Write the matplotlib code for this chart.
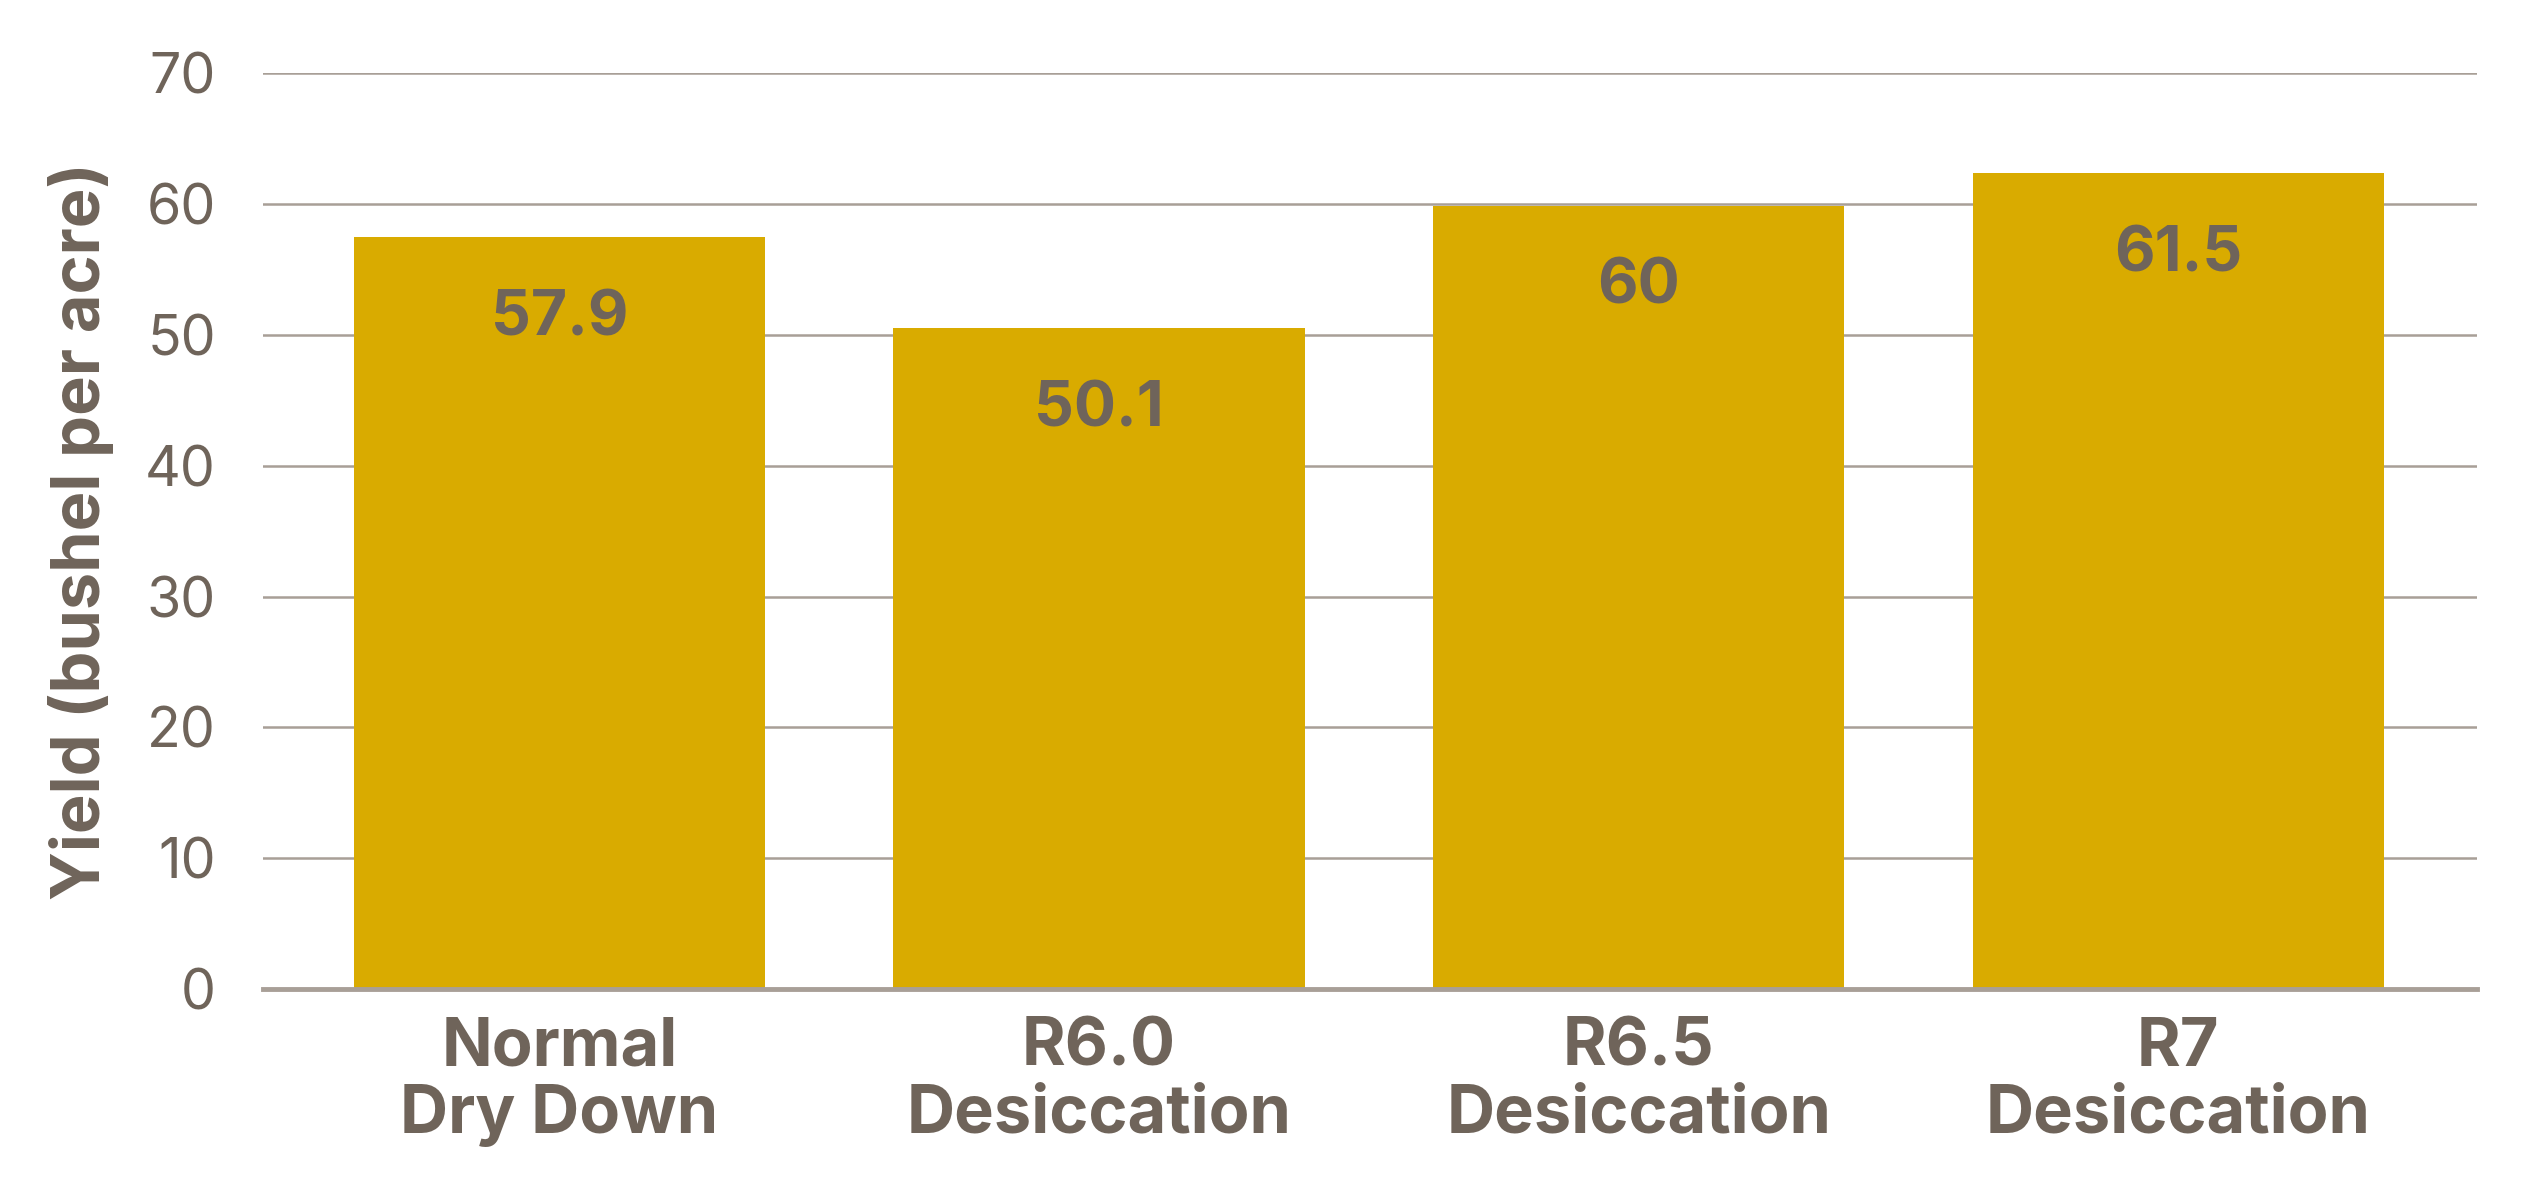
import matplotlib
matplotlib.use('Agg')
import matplotlib.pyplot as plt

categories = ['Normal\nDry Down', 'R6.0\nDesiccation', 'R6.5\nDesiccation', 'R7\nDesiccation']
bar_heights = [57.5, 50.5, 59.9, 62.4]
bar_labels = ['57.9', '50.1', '60', '61.5']
y_ticks = [0, 10, 20, 30, 40, 50, 60, 70]

text_color = '#6F645A'
bar_color = '#D9AB00'
grid_color = '#A89F97'

plt.rcParams['font.family'] = ['Inter', 'DejaVu Sans']

fig = plt.figure(figsize=(25.3, 11.81), dpi=100)
ax = fig.add_axes([0.104, 0.1626, 0.875, 0.7752])

x = range(len(categories))
bars = ax.bar(x, bar_heights, width=0.762, color=bar_color, zorder=2)

for rect, lab in zip(bars, bar_labels):
    ax.annotate(lab, xy=(rect.get_x() + rect.get_width() / 2, rect.get_height()),
                xytext=(0, -59), textcoords='offset points',
                ha='center', va='center', fontsize=45, fontweight='bold',
                color=text_color, zorder=3)

ax.set_xlim(-0.549, 3.553)
ax.set_ylim(0, 70)
ax.set_yticks(y_ticks)
ax.set_xticks(list(x))
ax.set_xticklabels(categories, fontsize=48, fontweight='bold', color=text_color,
                   linespacing=1.08)
ax.tick_params(axis='x', length=0, pad=20)
ax.tick_params(axis='y', length=0, pad=34, labelsize=40, labelcolor=text_color)

ax.yaxis.grid(True, color=grid_color, linewidth=1.8, zorder=0)
ax.set_axisbelow(True)
for side in ['top', 'right', 'left']:
    ax.spines[side].set_visible(False)
ax.spines['bottom'].set_color(grid_color)
ax.spines['bottom'].set_linewidth(3.5)
ax.spines['bottom'].set_zorder(3)

ax.set_ylabel('Yield (bushel per acre)', fontsize=48, fontweight='bold',
              color=text_color, labelpad=22)

fig.savefig('out.png', dpi=100, facecolor='white')
